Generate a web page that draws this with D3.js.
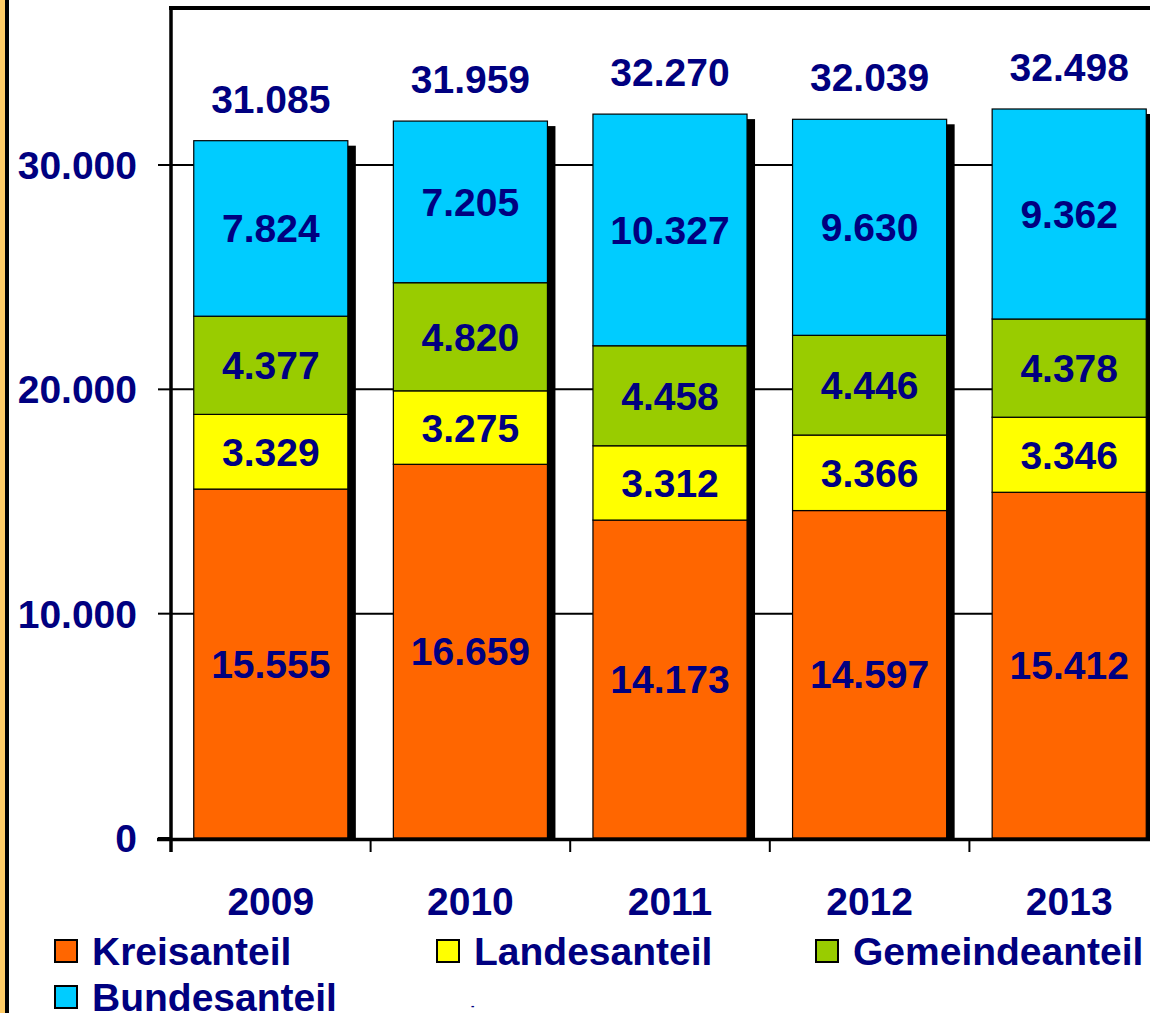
<!DOCTYPE html>
<html>
<head>
<meta charset="utf-8">
<script src="https://cdn.jsdelivr.net/npm/d3@7"></script>
<style>
  html, body { margin: 0; padding: 0; background: #fff; }
  svg { display: block; }
  text { font-family: "Liberation Sans", Arial, sans-serif; font-weight: bold; fill: #000080; }
</style>
</head>
<body>
<svg id="chart" width="1150" height="1013"></svg>
<script>
// Jahre und Anteile (Werte je Jahr)
const years = ["2009", "2010", "2011", "2012", "2013"];
const kreisanteil = [15555, 16659, 14173, 14597, 15412];
const landesanteil = [3329, 3275, 3312, 3366, 3346];
const gemeindeanteil = [4377, 4820, 4458, 4446, 4378];
const bundesanteil = [7824, 7205, 10327, 9630, 9362];
const seriesNames = ["Kreisanteil", "Landesanteil", "Gemeindeanteil", "Bundesanteil"];
const seriesColors = ["#FF6600", "#FFFF00", "#99CC00", "#00CCFF"];
const yTicks = [0, 10000, 20000, 30000];

const fmt = d3.formatLocale({ decimal: ",", thousands: ".", grouping: [3], currency: ["", " €"] }).format(",d");

const rows = years.map((y, i) => ({
  year: y,
  Kreisanteil: kreisanteil[i],
  Landesanteil: landesanteil[i],
  Gemeindeanteil: gemeindeanteil[i],
  Bundesanteil: bundesanteil[i]
}));
const stacked = d3.stack().keys(seriesNames)(rows);
const totals = rows.map(r => seriesNames.reduce((s, k) => s + r[k], 0));

const svg = d3.select("#chart");
const W = 1150, H = 1013;
const axisX = 171, axisY = 838, topY = 8;

const x = d3.scaleBand().domain(years).range([axisX, axisX + 998]).paddingInner(0.228).paddingOuter(0.114);
const y = d3.scaleLinear().domain([0, 37000]).range([axisY, topY]);

// linker Randstreifen
svg.append("rect").attr("x", 0).attr("y", 0).attr("width", 5).attr("height", H).attr("fill", "#FFCC66");
svg.append("rect").attr("x", 5).attr("y", 0).attr("width", 4).attr("height", H).attr("fill", "#000");

// Gitterlinien
svg.append("g").selectAll("line").data(yTicks.filter(d => d > 0)).join("line")
  .attr("x1", axisX).attr("x2", W).attr("y1", d => y(d)).attr("y2", d => y(d))
  .attr("stroke", "#000").attr("stroke-width", 2);

// Schatten der Säulen
const bw = x.bandwidth();
svg.append("g").selectAll("rect").data(rows).join("rect")
  .attr("x", (d, i) => x(d.year) + 8)
  .attr("y", (d, i) => y(totals[i]) + 5)
  .attr("width", bw)
  .attr("height", (d, i) => axisY - y(totals[i]) - 5)
  .attr("fill", "#000");

// gestapelte Säulen
stacked.forEach((layer, li) => {
  svg.append("g").selectAll("rect").data(layer).join("rect")
    .attr("x", d => x(d.data.year))
    .attr("y", d => y(d[1]))
    .attr("width", bw)
    .attr("height", d => y(d[0]) - y(d[1]))
    .attr("fill", seriesColors[li])
    .attr("stroke", "#000").attr("stroke-width", 1.2);
});

// Achsenrahmen
svg.append("line").attr("x1", axisX - 2).attr("x2", W).attr("y1", topY).attr("y2", topY)
  .attr("stroke", "#000").attr("stroke-width", 4);
svg.append("line").attr("x1", axisX).attr("x2", axisX).attr("y1", topY - 2).attr("y2", axisY + 14)
  .attr("stroke", "#000").attr("stroke-width", 3.5);
svg.append("line").attr("x1", axisX - 14).attr("x2", W).attr("y1", axisY + 1.5).attr("y2", axisY + 1.5)
  .attr("stroke", "#000").attr("stroke-width", 3.5);

// Y-Achse: Striche und Beschriftung
svg.append("g").selectAll("line").data(yTicks).join("line")
  .attr("x1", axisX - 13).attr("x2", axisX).attr("y1", d => y(d)).attr("y2", d => y(d))
  .attr("stroke", "#000").attr("stroke-width", 2);
svg.append("g").selectAll("text").data(yTicks).join("text")
  .attr("x", 137).attr("y", d => y(d)).attr("dy", "0.36em")
  .attr("text-anchor", "end").style("font-size", "39px")
  .text(d => fmt(d));

// X-Achse: Striche zwischen den Kategorien und Jahreszahlen
const step = x.step();
svg.append("g").selectAll("line").data(d3.range(years.length)).join("line")
  .attr("x1", i => axisX + i * step).attr("x2", i => axisX + i * step)
  .attr("y1", axisY).attr("y2", axisY + 14)
  .attr("stroke", "#000").attr("stroke-width", 2);
svg.append("g").selectAll("text").data(years).join("text")
  .attr("x", d => x(d) + bw / 2).attr("y", 915)
  .attr("text-anchor", "middle").style("font-size", "39px")
  .text(d => d);

// Werte in den Segmenten
stacked.forEach(layer => {
  svg.append("g").selectAll("text").data(layer).join("text")
    .attr("x", d => x(d.data.year) + bw / 2)
    .attr("y", d => (y(d[0]) + y(d[1])) / 2).attr("dy", "0.36em")
    .attr("text-anchor", "middle").style("font-size", "39px")
    .text(d => fmt(d[1] - d[0]));
});

// Summen über den Säulen
svg.append("g").selectAll("text").data(rows).join("text")
  .attr("x", d => x(d.year) + bw / 2)
  .attr("y", (d, i) => y(totals[i]) - 28)
  .attr("text-anchor", "middle").style("font-size", "39px")
  .text((d, i) => fmt(totals[i]));

// Legende
const legendPos = [[54, 939], [436, 939], [815, 939], [54, 985]];
const lg = svg.append("g").selectAll("g").data(seriesNames).join("g")
  .attr("transform", (d, i) => `translate(${legendPos[i][0]},${legendPos[i][1]})`);
lg.append("rect").attr("x", 1).attr("y", 1).attr("width", 22).attr("height", 22)
  .attr("fill", (d, i) => seriesColors[i]).attr("stroke", "#000").attr("stroke-width", 2);
lg.append("text").attr("x", 38).attr("y", 12).attr("dy", "0.36em")
  .style("font-size", "39px").text(d => d);

svg.append("text").attr("x", 471).attr("y", 1009).style("font-size", "10px").text("-");
</script>
</body>
</html>
